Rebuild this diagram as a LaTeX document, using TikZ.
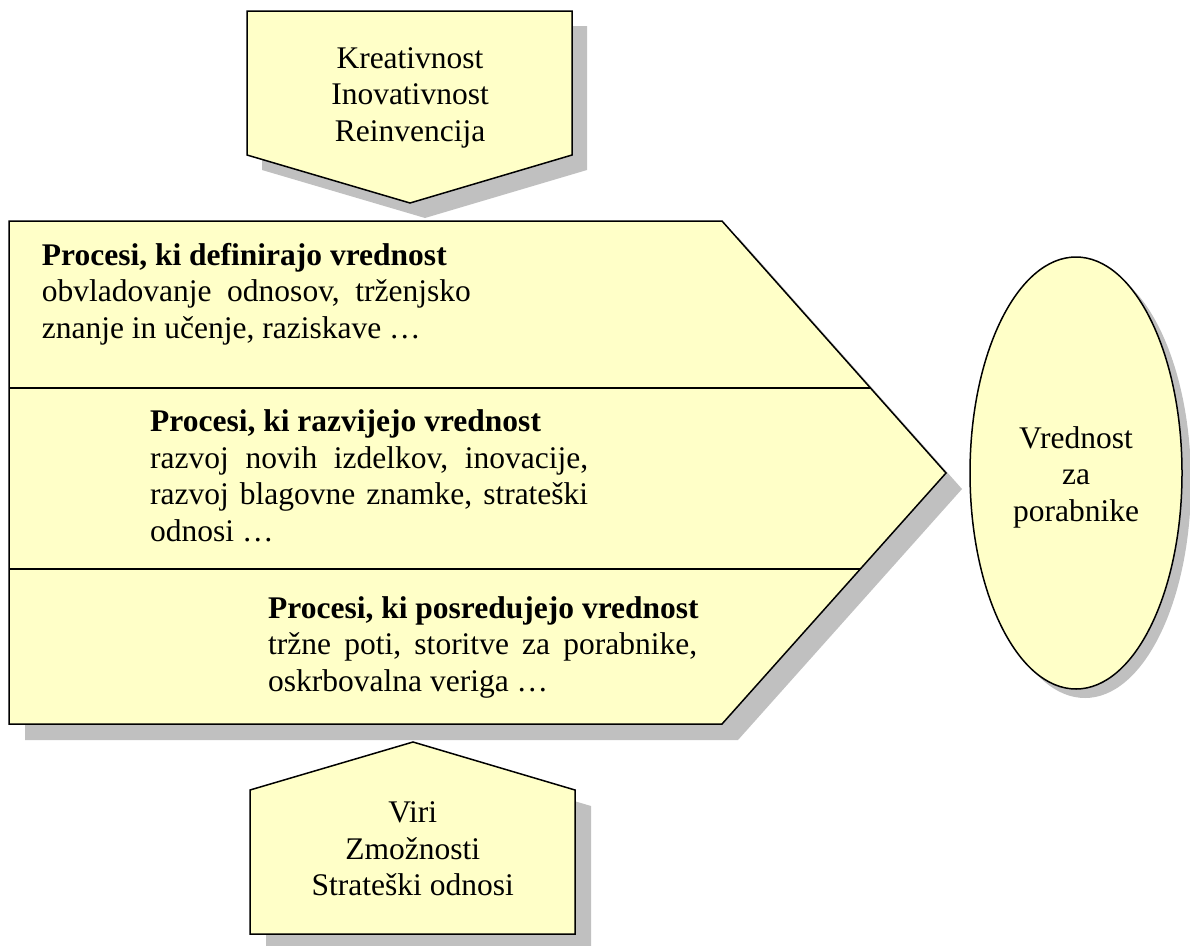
\documentclass[tikz,border=0pt]{standalone}
\usepackage{fontspec}
\setmainfont{Liberation Serif}
\definecolor{fillY}{RGB}{255,255,200}
\definecolor{shadowG}{RGB}{192,192,192}
\tikzset{
  box/.style={fill=fillY, draw=black, line width=1.5pt, line join=miter},
  shadowfill/.style={fill=shadowG, draw=none},
  divider/.style={draw=black, line width=1.5pt},
  txt/.style={inner sep=0pt, font=\fontsize{31.5}{36.6}\selectfont},
}
\begin{document}
\begin{tikzpicture}[x=1pt,y=-1pt]
\useasboundingbox (0,0) rectangle (1190,945);
% shadows
\fill[shadowfill, shift={(15,15)}] (247,11) -- (572,11) -- (572,155) -- (410,203) -- (247,155) -- cycle;
\fill[shadowfill, shift={(16,16)}] (9,221) -- (722,221) -- (946,473) -- (722,724) -- (9,724) -- cycle;
\fill[shadowfill, shift={(9,9)}] (1076,473) ellipse [x radius=106, y radius=216];
\fill[shadowfill, shift={(16,16)}] (250,790) -- (413,742) -- (575,790) -- (575,934) -- (250,934) -- cycle;
% shapes
\draw[box] (247,11) -- (572,11) -- (572,155) -- (410,203) -- (247,155) -- cycle;
\draw[box] (9,221) -- (722,221) -- (946,473) -- (722,724) -- (9,724) -- cycle;
\draw[box] (1076,473) ellipse [x radius=106, y radius=216];
\draw[box] (250,790) -- (413,742) -- (575,790) -- (575,934) -- (250,934) -- cycle;
% dividers
\coordinate (d1l) at (9,388);
\coordinate (d1r) at (870.4,388);
\coordinate (d2l) at (9,569);
\coordinate (d2r) at (860.3,569);
\draw[divider] (d1l) -- (d1r);
\draw[divider] (d2l) -- (d2r);
% texts
\node[txt, anchor=base] (top) at (410,68.3) {\begin{tabular}[t]{@{}c@{}}Kreativnost\\Inovativnost\\Reinvencija\end{tabular}};
\node[txt, anchor=base west] (def) at (41.7,265) {\begin{tabular}[t]{@{}l@{}}\textbf{Procesi, ki definirajo vrednost}\\\hbox to 429pt{obvladovanje\hfill odnosov,\hfill trženjsko}\\znanje in učenje, raziskave …\end{tabular}};
\node[txt, anchor=base west] (razv) at (150,431.7) {\begin{tabular}[t]{@{}l@{}}\textbf{Procesi, ki razvijejo vrednost}\\\hbox to 438pt{razvoj\hfill novih\hfill izdelkov,\hfill inovacije,}\\\hbox to 438pt{razvoj\hfill blagovne\hfill znamke,\hfill strateški}\\odnosi …\end{tabular}};
\node[txt, anchor=base west] (posr) at (268,618) {\begin{tabular}[t]{@{}l@{}}\textbf{Procesi, ki posredujejo vrednost}\\\hbox to 429pt{tržne\hfill poti,\hfill storitve\hfill za\hfill porabnike,}\\oskrbovalna veriga …\end{tabular}};
\node[txt, anchor=base] (vred) at (1076,448) {\begin{tabular}[t]{@{}c@{}}Vrednost\\za\\porabnike\end{tabular}};
\node[txt, anchor=base] (viri) at (412.7,822.7) {\begin{tabular}[t]{@{}c@{}}Viri\\Zmožnosti\\Strateški odnosi\end{tabular}};
\end{tikzpicture}
\end{document}
